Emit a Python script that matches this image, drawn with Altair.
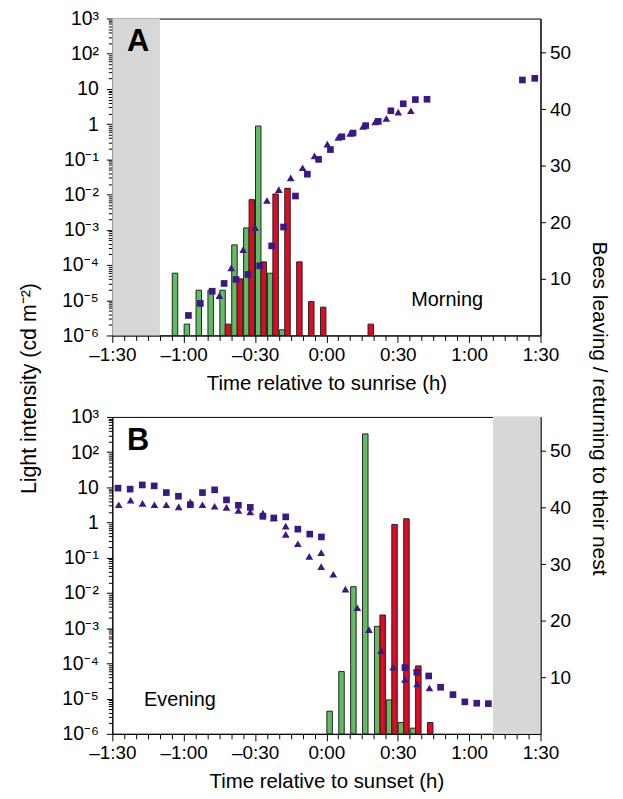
import altair as alt
import pandas as pd

FONT = "Liberation Sans"
PURPLE = "#3d1880"
GREEN = "#62bd62"
RED = "#df0a24"
GRAY = "#d7d7d7"
W, H = 431, 319

# ---------------- Panel A (morning) ----------------
A_gray = [-90, -70]
A_green_bin = [-65, -60, -55, -50, -45, -40, -35, -30, -25, -20]
A_green_n = [11, 2, 8, 8, 8, 16, 19, 37, 11, 1]
A_red_bin = [-45, -40, -35, -30, -25, -20, -15, -10, -5, 15]
A_red_n = [2, 10, 24, 13, 25, 26, 13, 6, 5, 2]
A_sq_t = [-58, -53, -48, -43, -38, -33, -28, -23, -18, -13, -8, -3.3, 1.7, 6.5,
          11.2, 16.5, 21.8, 27.1, 32.3, 37.4, 42.3, 82.4, 87.6]
A_sq_v = [3.7e-6, 8.1e-6, 1.8e-5, 3.0e-5, 3.9e-5, 5.4e-5, 9.5e-5, 3.5e-4, 1.2e-3,
          9.1e-3, 0.038, 0.10, 0.19, 0.44, 0.56, 0.91, 1.2, 2.4, 3.8, 5.0, 5.1, 18, 20]
A_tr_t = [-45, -40, -35, -30, -25, -20, -15, -10, -5, 0.4, 5, 10, 15.4, 20.5,
          25.2, 30.2, 35.5]
A_tr_v = [1.35e-5, 8.3e-5, 2.75e-4, 1.15e-3, 6.8e-3, 0.0138, 0.030, 0.058, 0.126,
          0.27, 0.42, 0.55, 0.87, 1.16, 1.45, 2.2, 2.4]

# ---------------- Panel B (evening) ----------------
B_gray = [70, 90]
B_green_bin = [0, 5, 10, 15, 20, 25, 30, 35]
B_green_n = [4, 11, 26, 53, 19, 6, 2, 1]
B_red_bin = [20, 25, 30, 35, 40]
B_red_n = [21, 37, 38, 12, 2]
B_sq_t = [-87.6, -82.5, -77.4, -72.4, -67.3, -62.2, -57.2, -52.1, -47.0, -42.0,
          -37.0, -32.0, -26.7, -22.1, -17.1, -12.0, -7.0, -2.1,
          33.0, 38.0, 43.0, 48.0, 53.2, 58.2, 63.2, 68.1]
B_sq_v = [9.5, 8.9, 11.7, 11.0, 7.1, 5.6, 3.2, 7.1, 8.5, 4.4, 3.1, 2.7, 1.5, 1.35,
          1.45, 0.65, 0.47, 0.39, 7.6e-5, 5.6e-5, 4.4e-5, 2.1e-5, 1.3e-5, 8.1e-6,
          7.4e-6, 7.2e-6]
B_tr_t = [-87.3, -82.3, -77.3, -72.3, -67.3, -62.1, -57.2, -52.1, -47.0, -42.0,
          -37.0, -32.0, -26.7, -22.1, -17.1, -17.1, -12.0, -7.2, -2.2, -2.2, 2.9,
          8.0, 13.0, 17.9, 23.0, 28.1, 33.0, 38.1, 43.3]
B_tr_v = [3.2, 4.3, 3.5, 3.2, 3.2, 2.8, 3.8, 3.2, 2.9, 2.7, 2.2, 2.0, 1.86, 1.35,
          0.79, 0.46, 0.25, 0.11, 0.14, 0.056, 0.034, 0.0129, 3.8e-3, 9.1e-4,
          2.3e-4, 7.8e-5, 3.5e-5, 2.6e-5, 2.0e-5]

X_TICKS = list(range(-90, 91, 5))
Y_TICKS = [k * 10.0 ** e for e in range(-6, 3) for k in range(1, 10)] + [1000.0]
R_TICKS = [10, 20, 30, 40, 50]

SUP = {"-": "⁻", "0": "⁰", "1": "¹", "2": "²", "3": "³", "4": "⁴",
       "5": "⁵", "6": "⁶", "7": "⁷", "8": "⁸", "9": "⁹"}


def dec_label(e):
    if e == 0:
        return "1"
    if e == 1:
        return "10"
    return "10" + "".join(SUP[c] for c in str(e))


LOGV = "(log(datum.value)/LN10)"
EXP = f"round({LOGV})"
expr = "''"
for e in range(3, -7, -1):
    expr = f"({EXP} == {e} ? '{dec_label(e)}' : {expr})"
Y_LABEL_EXPR = f"abs({LOGV} - {EXP}) > 0.01 ? '' : {expr}"
Y_MAJOR = f"abs({LOGV} - {EXP}) < 0.01"

X_LABEL_EXPR = ("datum.value % 30 != 0 ? '' : (datum.value < 0 ? '–' : '') + "
                "floor(abs(datum.value) / 60) + ':' + "
                "(abs(datum.value) % 60 == 0 ? '00' : '30')")

XSCALE = alt.Scale(domain=[-90, 90], nice=False, zero=False)


def x_axis(title):
    return alt.Axis(values=X_TICKS, labelExpr=X_LABEL_EXPR, title=title,
                    tickSize={"condition": {"test": "datum.value % 30 == 0", "value": 7}, "value": 5},
                    labelFontSize=19, titleFontSize=20.5, titleFontWeight="normal",
                    labelPadding=3, titlePadding=9, labelFlush=False, labelOverlap=False)


def panel(gray, g_bin, g_n, r_bin, r_n, sq_t, sq_v, tr_t, tr_v, letter, word, word_xy,
          xtitle, first):
    xa = x_axis(xtitle)
    gray_df = pd.DataFrame({"t0": [gray[0]], "t1": [gray[1]]})
    shade = alt.Chart(gray_df).mark_rect(color=GRAY).encode(
        x=alt.X("t0:Q", scale=XSCALE, axis=xa), x2="t1:Q",
        y=alt.value(0), y2=alt.value(H))

    rows = []
    for t, n in zip(g_bin, g_n):
        rows.append({"a": t + 0.2, "b": t + 2.5, "n": n, "base": 0, "kind": "leaving"})
    for t, n in zip(r_bin, r_n):
        rows.append({"a": t + 2.5, "b": t + 4.8, "n": n, "base": 0, "kind": "returning"})
    bars_df = pd.DataFrame(rows)
    if first:
        rax = alt.Axis(values=R_TICKS, orient="right", tickSize=5, labelPadding=4,
                       labelFontSize=19, title="Bees leaving / returning to their nest",
                       titleFontSize=21, titleFontWeight="normal", titleAngle=90,
                       titleX=58, titleY=392, titleAlign="center", titleBaseline="middle")
    else:
        rax = alt.Axis(values=R_TICKS, orient="right", tickSize=5, labelPadding=4,
                       labelFontSize=19, title=None)
    bars = alt.Chart(bars_df).mark_bar(stroke="#222222", strokeWidth=1).encode(
        x=alt.X("a:Q", scale=XSCALE, axis=xa), x2="b:Q",
        y=alt.Y("n:Q", scale=alt.Scale(domain=[0, 56], nice=False, zero=True), axis=rax),
        y2="base:Q",
        color=alt.Color("kind:N", scale=alt.Scale(domain=["leaving", "returning"],
                                                  range=[GREEN, RED]), legend=None))

    pts_df = pd.DataFrame({"t": list(sq_t) + list(tr_t),
                           "v": list(sq_v) + list(tr_v),
                           "s": ["sq"] * len(sq_t) + ["tr"] * len(tr_t)})
    yax_kw = dict(values=Y_TICKS, labelExpr=Y_LABEL_EXPR, orient="left",
                  tickSize={"condition": {"test": Y_MAJOR, "value": 6}, "value": 4},
                  labelPadding=8, labelFontSize=19.5, labelOverlap=False, labelFlush=False)
    if first:
        lax = alt.Axis(title="Light intensity (cd m⁻²)", titleFontSize=21.5,
                       titleFontWeight="normal", titleAngle=-90, titleX=-83, titleY=372,
                       titleAlign="center", titleBaseline="middle", **yax_kw)
    else:
        lax = alt.Axis(title=None, **yax_kw)
    pts = alt.Chart(pts_df).mark_point(filled=True, opacity=1, color=PURPLE).encode(
        x=alt.X("t:Q", scale=XSCALE, axis=xa),
        y=alt.Y("v:Q", scale=alt.Scale(type="log", domain=[1e-6, 1e3], nice=False),
                axis=lax),
        shape=alt.Shape("s:N", scale=alt.Scale(domain=["sq", "tr"],
                                               range=["square", "triangle-up"]), legend=None),
        size=alt.Size("s:N", scale=alt.Scale(domain=["sq", "tr"], range=[45, 60]), legend=None))

    let = alt.Chart(pd.DataFrame({"txt": [letter]})).mark_text(
        font=FONT, fontSize=31, fontWeight="bold", color="black").encode(
        text="txt:N", x=alt.value(26), y=alt.value(24))
    wd = alt.Chart(pd.DataFrame({"txt": [word]})).mark_text(
        font=FONT, fontSize=20, color="black").encode(
        text="txt:N", x=alt.value(word_xy[0]), y=alt.value(word_xy[1]))

    return alt.layer(shade, bars, pts, let, wd).resolve_scale(
        y="independent").properties(width=W, height=H)


pA = panel(A_gray, A_green_bin, A_green_n, A_red_bin, A_red_n, A_sq_t, A_sq_v,
           A_tr_t, A_tr_v, "A", "Morning", (337, 283), "Time relative to sunrise (h)", True)
pB = panel(B_gray, B_green_bin, B_green_n, B_red_bin, B_red_n, B_sq_t, B_sq_v,
           B_tr_t, B_tr_v, "B", "Evening", (68, 285), "Time relative to sunset (h)", False)

chart = alt.vconcat(pA, pB, spacing=82, bounds="flush").properties(
    padding={"left": 10, "top": -3, "right": 5, "bottom": 5}
).configure_view(stroke="black", strokeWidth=1).configure_axis(
    domainColor="black", tickColor="black", labelColor="black", titleColor="black",
    labelFont=FONT, titleFont=FONT, grid=False, domainWidth=1, tickWidth=1
).configure_text(font=FONT)

chart.save("out.html", embed_options={"renderer": "svg", "actions": False})
